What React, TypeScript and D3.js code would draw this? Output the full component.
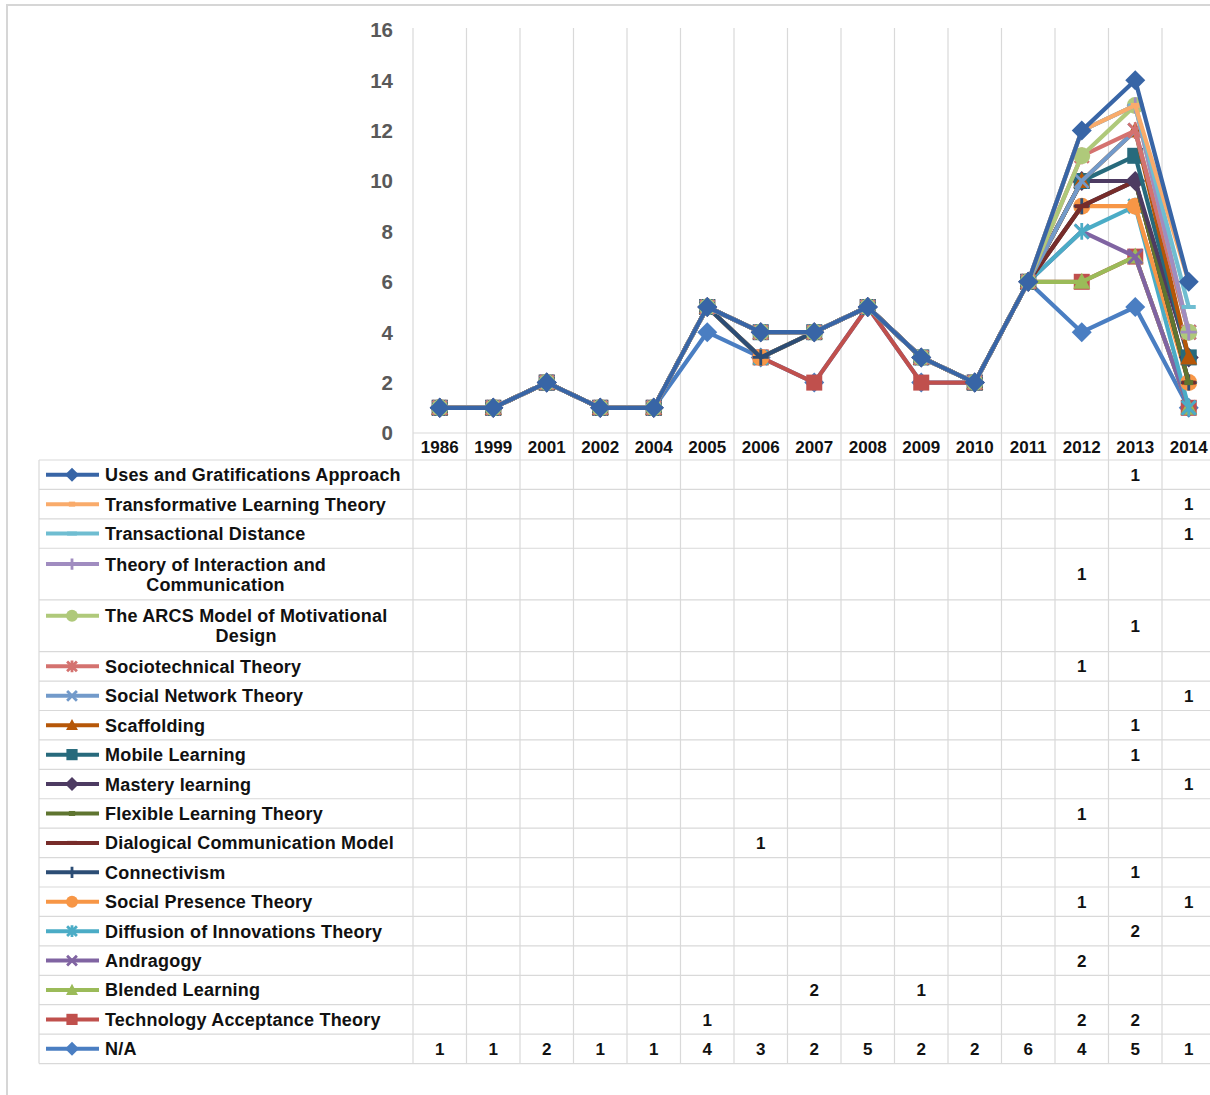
import React, { useEffect, useRef } from "react";
import * as d3 from "d3";

const years = ["1986", "1999", "2001", "2002", "2004", "2005", "2006", "2007", "2008", "2009", "2010", "2011", "2012", "2013", "2014"];

const naCounts = [1, 1, 2, 1, 1, 4, 3, 2, 5, 2, 2, 6, 4, 5, 1];
const technologyAcceptance = [null, null, null, null, null, 1, null, null, null, null, null, null, 2, 2, null];
const blendedLearning = [null, null, null, null, null, null, null, 2, null, 1, null, null, null, null, null];
const andragogy = [null, null, null, null, null, null, null, null, null, null, null, null, 2, null, null];
const diffusionOfInnovations = [null, null, null, null, null, null, null, null, null, null, null, null, null, 2, null];
const socialPresence = [null, null, null, null, null, null, null, null, null, null, null, null, 1, null, 1];
const connectivism = [null, null, null, null, null, null, null, null, null, null, null, null, null, 1, null];
const dialogicalCommunication = [null, null, null, null, null, null, 1, null, null, null, null, null, null, null, null];
const flexibleLearning = [null, null, null, null, null, null, null, null, null, null, null, null, 1, null, null];
const masteryLearning = [null, null, null, null, null, null, null, null, null, null, null, null, null, null, 1];
const mobileLearning = [null, null, null, null, null, null, null, null, null, null, null, null, null, 1, null];
const scaffolding = [null, null, null, null, null, null, null, null, null, null, null, null, null, 1, null];
const socialNetwork = [null, null, null, null, null, null, null, null, null, null, null, null, null, null, 1];
const sociotechnical = [null, null, null, null, null, null, null, null, null, null, null, null, 1, null, null];
const arcsModel = [null, null, null, null, null, null, null, null, null, null, null, null, null, 1, null];
const interactionCommunication = [null, null, null, null, null, null, null, null, null, null, null, null, 1, null, null];
const transactionalDistance = [null, null, null, null, null, null, null, null, null, null, null, null, null, null, 1];
const transformativeLearning = [null, null, null, null, null, null, null, null, null, null, null, null, null, null, 1];
const usesGratifications = [null, null, null, null, null, null, null, null, null, null, null, null, null, 1, null];

// stacking order: bottom first
const seriesNames = [
  ["N/A"],
  ["Technology Acceptance Theory"],
  ["Blended Learning"],
  ["Andragogy"],
  ["Diffusion of Innovations Theory"],
  ["Social Presence Theory"],
  ["Connectivism"],
  ["Dialogical Communication Model"],
  ["Flexible Learning Theory"],
  ["Mastery learning"],
  ["Mobile Learning"],
  ["Scaffolding"],
  ["Social Network Theory"],
  ["Sociotechnical Theory"],
  ["The ARCS Model of Motivational", "Design"],
  ["Theory of Interaction and", "Communication"],
  ["Transactional Distance"],
  ["Transformative Learning Theory"],
  ["Uses and Gratifications Approach"],
];
const seriesValues = [
  naCounts, technologyAcceptance, blendedLearning, andragogy, diffusionOfInnovations,
  socialPresence, connectivism, dialogicalCommunication, flexibleLearning, masteryLearning,
  mobileLearning, scaffolding, socialNetwork, sociotechnical, arcsModel,
  interactionCommunication, transactionalDistance, transformativeLearning, usesGratifications,
];
const seriesColors = [
  "#4a7ec2", "#c0504d", "#9bbb59", "#8064a2", "#4bacc6", "#f79646",
  "#2c4d75", "#772c2a", "#5f7530", "#4d3b62", "#276a7c", "#b65708",
  "#729aca", "#d4726f", "#afc97a", "#a08cc0", "#6fbdd1", "#f9ab6b",
  "#3865a6",
];
const seriesMarkers = [
  "diamond", "square", "triangle", "x", "star", "circle", "plus", "dash", "dot",
  "diamond", "square", "triangle", "x", "star", "circle", "plus", "dash", "dot",
  "diamond",
];
const yTicks = [0, 2, 4, 6, 8, 10, 12, 14, 16];

function drawMarker(g: any, type: string, x: number, y: number, color: string, s: number) {
  switch (type) {
    case "diamond":
      g.append("polygon")
        .attr("points", `${x},${y - 10 * s} ${x + 10 * s},${y} ${x},${y + 10 * s} ${x - 10 * s},${y}`)
        .attr("fill", color);
      break;
    case "square":
      g.append("rect").attr("x", x - 8 * s).attr("y", y - 8 * s).attr("width", 16 * s).attr("height", 16 * s).attr("fill", color);
      break;
    case "triangle":
      g.append("polygon")
        .attr("points", `${x},${y - 9 * s} ${x + 8.5 * s},${y + 7 * s} ${x - 8.5 * s},${y + 7 * s}`)
        .attr("fill", color);
      break;
    case "circle":
      g.append("circle").attr("cx", x).attr("cy", y).attr("r", 8.5 * s).attr("fill", color);
      break;
    case "x":
    case "star": {
      const r = 7 * s;
      g.append("path")
        .attr("d", `M${x - r},${y - r}L${x + r},${y + r}M${x - r},${y + r}L${x + r},${y - r}` + (type === "star" ? `M${x},${y - r * 1.2}L${x},${y + r * 1.2}` : ""))
        .attr("stroke", color).attr("stroke-width", 2.8).attr("fill", "none");
      break;
    }
    case "plus": {
      const r = 8 * s;
      g.append("path")
        .attr("d", `M${x - r},${y}L${x + r},${y}M${x},${y - r}L${x},${y + r}`)
        .attr("stroke", color).attr("stroke-width", 2.8).attr("fill", "none");
      break;
    }
    case "dash":
      g.append("rect").attr("x", x - 7 * s).attr("y", y - 2).attr("width", 14 * s).attr("height", 4).attr("fill", color);
      break;
    case "dot":
      g.append("rect").attr("x", x - 4.5 * s).attr("y", y - 2.5).attr("width", 9 * s).attr("height", 5).attr("fill", color);
      break;
  }
}

export default function App() {
  const ref = useRef<SVGSVGElement>(null);

  useEffect(() => {
    const svg = d3.select(ref.current);
    svg.selectAll("*").remove();

    const W = 1210, H = 1095;
    const plotLeft = 413, colW = 53.5;
    const x = d3.scaleBand().domain(years).range([plotLeft, plotLeft + colW * years.length]).padding(0);
    const y = d3.scaleLinear().domain([0, 16]).range([433, 29.8]);
    const cx = (yr: string) => (x(yr) as number) + x.bandwidth() / 2;
    const gridColor = "#d9d9d9";
    const font = "'Liberation Sans', Arial, sans-serif";

    svg.append("rect").attr("x", 0).attr("y", 0).attr("width", W).attr("height", H).attr("fill", "#fff");
    svg.append("rect").attr("x", 7).attr("y", 5).attr("width", W + 20).attr("height", H + 20)
      .attr("fill", "none").attr("stroke", "#d6d6d6").attr("stroke-width", 2);

    // table layout
    const tableTop = 460, tableLeft = 39;
    const display = seriesNames.map((_, i) => i).reverse();
    const rowH = (i: number) => (seriesNames[i].length > 1 ? 51.7 : 29.42);
    const rowTops: number[] = [];
    let acc = tableTop;
    display.forEach((i) => { rowTops[i] = acc; acc += rowH(i); });
    const tableBottom = acc;

    // grid
    const grid = svg.append("g").attr("stroke", gridColor).attr("stroke-width", 1.2);
    d3.range(years.length + 1).forEach((k) => {
      const gx = plotLeft + k * colW;
      grid.append("line").attr("x1", gx).attr("x2", gx).attr("y1", 28).attr("y2", tableBottom);
    });
    grid.append("line").attr("x1", plotLeft).attr("x2", W + 10).attr("y1", y(0)).attr("y2", y(0));
    grid.append("line").attr("x1", tableLeft).attr("x2", tableLeft).attr("y1", tableTop).attr("y2", tableBottom);
    grid.append("line").attr("x1", tableLeft).attr("x2", W + 10).attr("y1", tableTop).attr("y2", tableTop);
    display.forEach((i) => {
      const yy = rowTops[i] + rowH(i);
      grid.append("line").attr("x1", tableLeft).attr("x2", W + 10).attr("y1", yy).attr("y2", yy);
    });

    // y axis labels
    svg.append("g").selectAll("text").data(yTicks).join("text")
      .attr("x", 393).attr("y", (d) => y(d)).attr("dy", "0.36em")
      .attr("text-anchor", "end").attr("font-family", font).attr("font-weight", "bold")
      .attr("font-size", 20.5).attr("fill", "#595959").text((d) => d);

    // year header
    svg.append("g").selectAll("text").data(years).join("text")
      .attr("x", (d) => cx(d)).attr("y", 446.5).attr("dy", "0.36em")
      .attr("text-anchor", "middle").attr("font-family", font).attr("font-weight", "bold")
      .attr("font-size", 17).attr("fill", "#111").text((d) => d);

    // stacked values
    const stacked: number[][] = [];
    seriesValues.forEach((vals, i) => {
      stacked.push(vals.map((v, k) => (v ?? 0) + (i > 0 ? stacked[i - 1][k] : 0)));
    });

    const clip = svg.append("defs").append("clipPath").attr("id", "clipW");
    clip.append("rect").attr("x", 0).attr("y", 0).attr("width", W).attr("height", H);
    const plot = svg.append("g").attr("clip-path", "url(#clipW)");
    const line = d3.line<number>().x((_, k) => cx(years[k])).y((d) => y(d));

    stacked.forEach((vals, i) => {
      const g = plot.append("g");
      g.append("path").attr("d", line(vals) as string).attr("fill", "none")
        .attr("stroke", seriesColors[i]).attr("stroke-width", 4.2).attr("stroke-linejoin", "round");
      vals.forEach((v, k) => drawMarker(g, seriesMarkers[i], cx(years[k]), y(v), seriesColors[i], 1));
    });

    // table rows
    const table = svg.append("g");
    display.forEach((i) => {
      const top = rowTops[i];
      const h = rowH(i);
      const lines = seriesNames[i];
      const keyY = lines.length > 1 ? top + h / 2 - 10 : top + h / 2;
      table.append("line").attr("x1", 46).attr("x2", 99).attr("y1", keyY).attr("y2", keyY)
        .attr("stroke", seriesColors[i]).attr("stroke-width", 4);
      drawMarker(table, seriesMarkers[i], 72, keyY, seriesColors[i], 0.7);
      const t1 = table.append("text").attr("x", 105).attr("y", keyY).attr("dy", "0.36em")
        .attr("font-family", font).attr("font-weight", "bold").attr("font-size", 18)
        .attr("letter-spacing", 0.2).attr("fill", "#111").text(lines[0]);
      if (lines.length > 1) {
        const w = (t1.node() as SVGTextElement).getComputedTextLength();
        table.append("text").attr("x", 105 + w / 2).attr("y", keyY + 20).attr("dy", "0.36em")
          .attr("text-anchor", "middle")
          .attr("font-family", font).attr("font-weight", "bold").attr("font-size", 18)
          .attr("letter-spacing", 0.2).attr("fill", "#111").text(lines[1]);
      }
      seriesValues[i].forEach((v, k) => {
        if (v == null) return;
        table.append("text").attr("x", cx(years[k])).attr("y", top + h / 2).attr("dy", "0.36em")
          .attr("text-anchor", "middle").attr("font-family", font).attr("font-weight", "bold")
          .attr("font-size", 17).attr("fill", "#111").text(v);
      });
    });
  }, []);

  return <svg ref={ref} width={1210} height={1095} style={{ display: "block", position: "absolute", left: 0, top: 0 }} />;
}
